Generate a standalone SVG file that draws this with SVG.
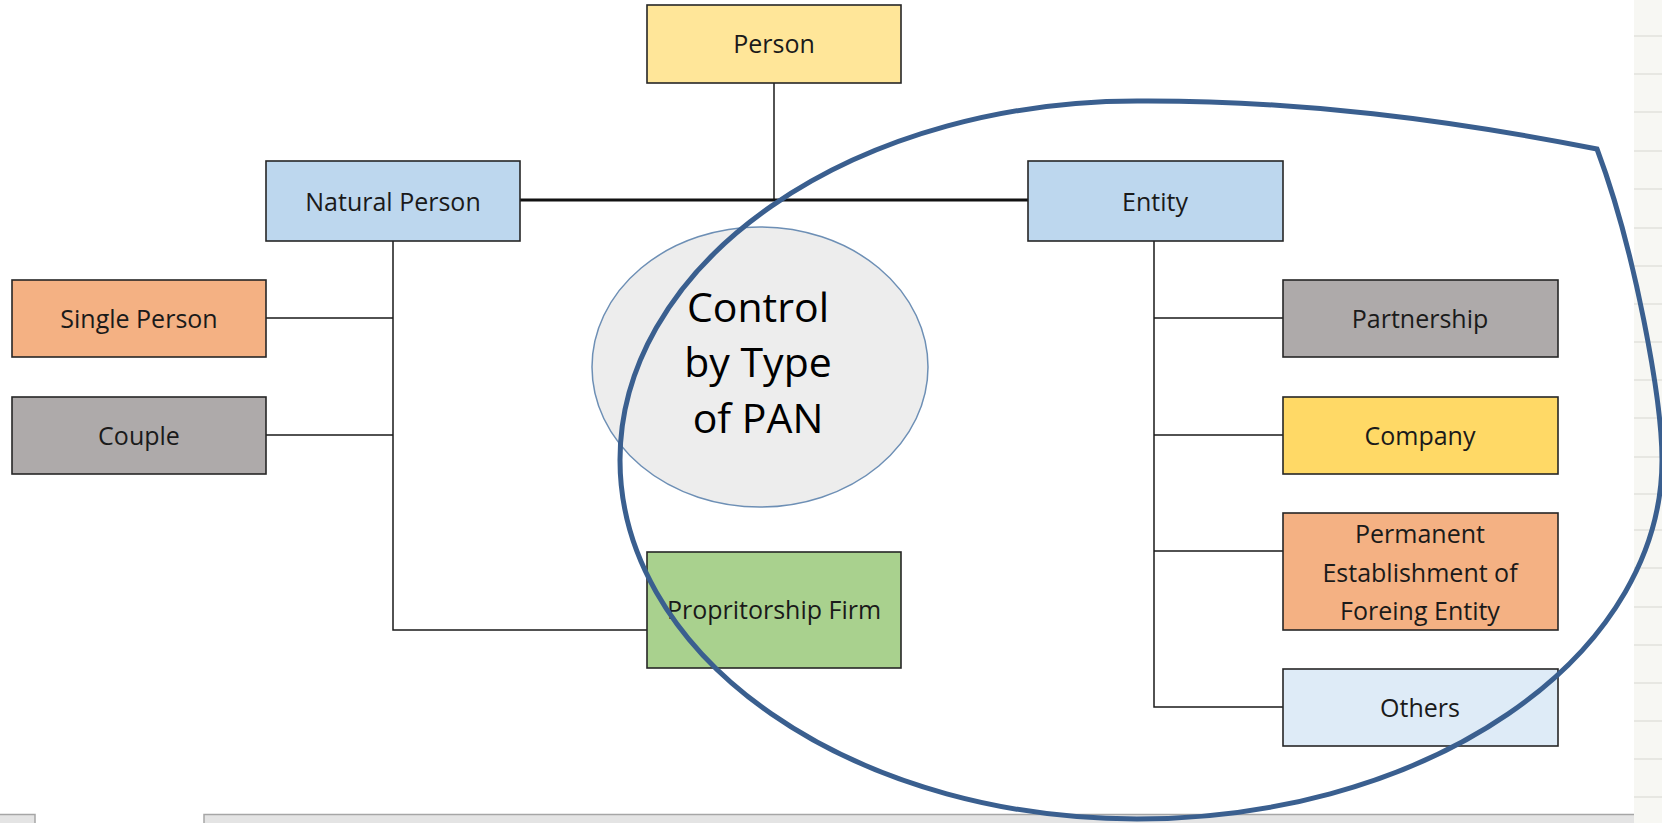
<svg xmlns="http://www.w3.org/2000/svg" width="1662" height="823" viewBox="0 0 1662 823">
<style>
.box{stroke:#262626;stroke-width:1.6}
.t{font-family:"Open Sans","Liberation Sans",sans-serif;font-size:25px;fill:#1a1a1a;text-anchor:middle}
.c{stroke:#1a1a1a;stroke-width:1.5;fill:none}
.grid{stroke:#e2e2dc;stroke-width:1.5}
</style>
<rect width="1662" height="823" fill="#ffffff"/>
<g id="sheet">
<rect x="1634" y="0" width="28" height="823" fill="#f7f7f3"/>
<g class="grid">
<line x1="1634" y1="36" x2="1662" y2="36"/><line x1="1634" y1="74" x2="1662" y2="74"/><line x1="1634" y1="112" x2="1662" y2="112"/><line x1="1634" y1="151" x2="1662" y2="151"/><line x1="1634" y1="189" x2="1662" y2="189"/><line x1="1634" y1="228" x2="1662" y2="228"/><line x1="1634" y1="266" x2="1662" y2="266"/><line x1="1634" y1="304" x2="1662" y2="304"/><line x1="1634" y1="342" x2="1662" y2="342"/><line x1="1634" y1="380" x2="1662" y2="380"/><line x1="1634" y1="418" x2="1662" y2="418"/><line x1="1634" y1="457" x2="1662" y2="457"/><line x1="1634" y1="494" x2="1662" y2="494"/><line x1="1634" y1="530" x2="1662" y2="530"/><line x1="1634" y1="568" x2="1662" y2="568"/><line x1="1634" y1="607" x2="1662" y2="607"/><line x1="1634" y1="645" x2="1662" y2="645"/><line x1="1634" y1="683" x2="1662" y2="683"/><line x1="1634" y1="721" x2="1662" y2="721"/><line x1="1634" y1="759" x2="1662" y2="759"/><line x1="1634" y1="797" x2="1662" y2="797"/>
</g>
<rect x="0" y="814" width="35" height="9" fill="#e4e4e4"/>
<rect x="204" y="814" width="1430" height="9" fill="#e4e4e4"/>
<path d="M0,814.5H35V823M204,823V814.5H1634" fill="none" stroke="#a6a6a6" stroke-width="1.5"/>
</g>
<g id="connectors">
<line class="c" x1="774" y1="83" x2="774" y2="200"/>
<line x1="520" y1="200" x2="1028" y2="200" stroke="#111" stroke-width="3"/>
<path class="c" d="M393,241V630H647M266,318H393M266,435H393"/>
<path class="c" d="M1154,241V707H1283M1154,318H1283M1154,435H1283M1154,551H1283"/>
</g>
<g id="person"><rect class="box" x="647" y="5" width="254" height="78" fill="#ffe699"/><text class="t" x="774" y="53">Person</text></g>
<g id="natural-person"><rect class="box" x="266" y="161" width="254" height="80" fill="#bdd7ee"/><text class="t" x="393" y="211">Natural Person</text></g>
<g id="entity"><rect class="box" x="1028" y="161" width="255" height="80" fill="#bdd7ee"/><text class="t" x="1155" y="211">Entity</text></g>
<g id="single-person"><rect class="box" x="12" y="280" width="254" height="77" fill="#f4b183"/><text class="t" x="139" y="328">Single Person</text></g>
<g id="couple"><rect class="box" x="12" y="397" width="254" height="77" fill="#aeaaaa"/><text class="t" x="139" y="445">Couple</text></g>
<g id="proprietorship-firm"><rect class="box" x="647" y="552" width="254" height="116" fill="#a9d18e"/><text class="t" x="774" y="619">Propritorship Firm</text></g>
<g id="partnership"><rect class="box" x="1283" y="280" width="275" height="77" fill="#aeaaaa"/><text class="t" x="1420" y="328">Partnership</text></g>
<g id="company"><rect class="box" x="1283" y="397" width="275" height="77" fill="#ffd966"/><text class="t" x="1420" y="445">Company</text></g>
<g id="permanent-establishment"><rect class="box" x="1283" y="513" width="275" height="117" fill="#f4b183"/><text class="t" x="1420" y="543">Permanent</text><text class="t" x="1420" y="582">Establishment of</text><text class="t" x="1420" y="620">Foreing Entity</text></g>
<g id="others"><rect class="box" x="1283" y="669" width="275" height="77" fill="#deebf7"/><text class="t" x="1420" y="717">Others</text></g>
<g id="control-by-type"><ellipse cx="760" cy="367" rx="168" ry="140" fill="#ededed" stroke="#6d8fb5" stroke-width="1.5"/><text font-family="Open Sans, Liberation Sans, sans-serif" font-size="41" fill="#000" text-anchor="middle"><tspan x="758" y="322">Control</tspan><tspan x="758" y="377">by Type</tspan><tspan x="758" y="433">of PAN</tspan></text></g>
<g id="highlight-loop"><path d="M1597,149 C1450,120 1300,100 1137,101 A517,359 0 0 0 620,460 A517,359 0 0 0 1137,819 A525,359 0 0 0 1662,460 C1662,400 1635,250 1597,149 Z" fill="none" stroke="#3a5f8f" stroke-width="5" stroke-linejoin="miter"/></g>
</svg>
